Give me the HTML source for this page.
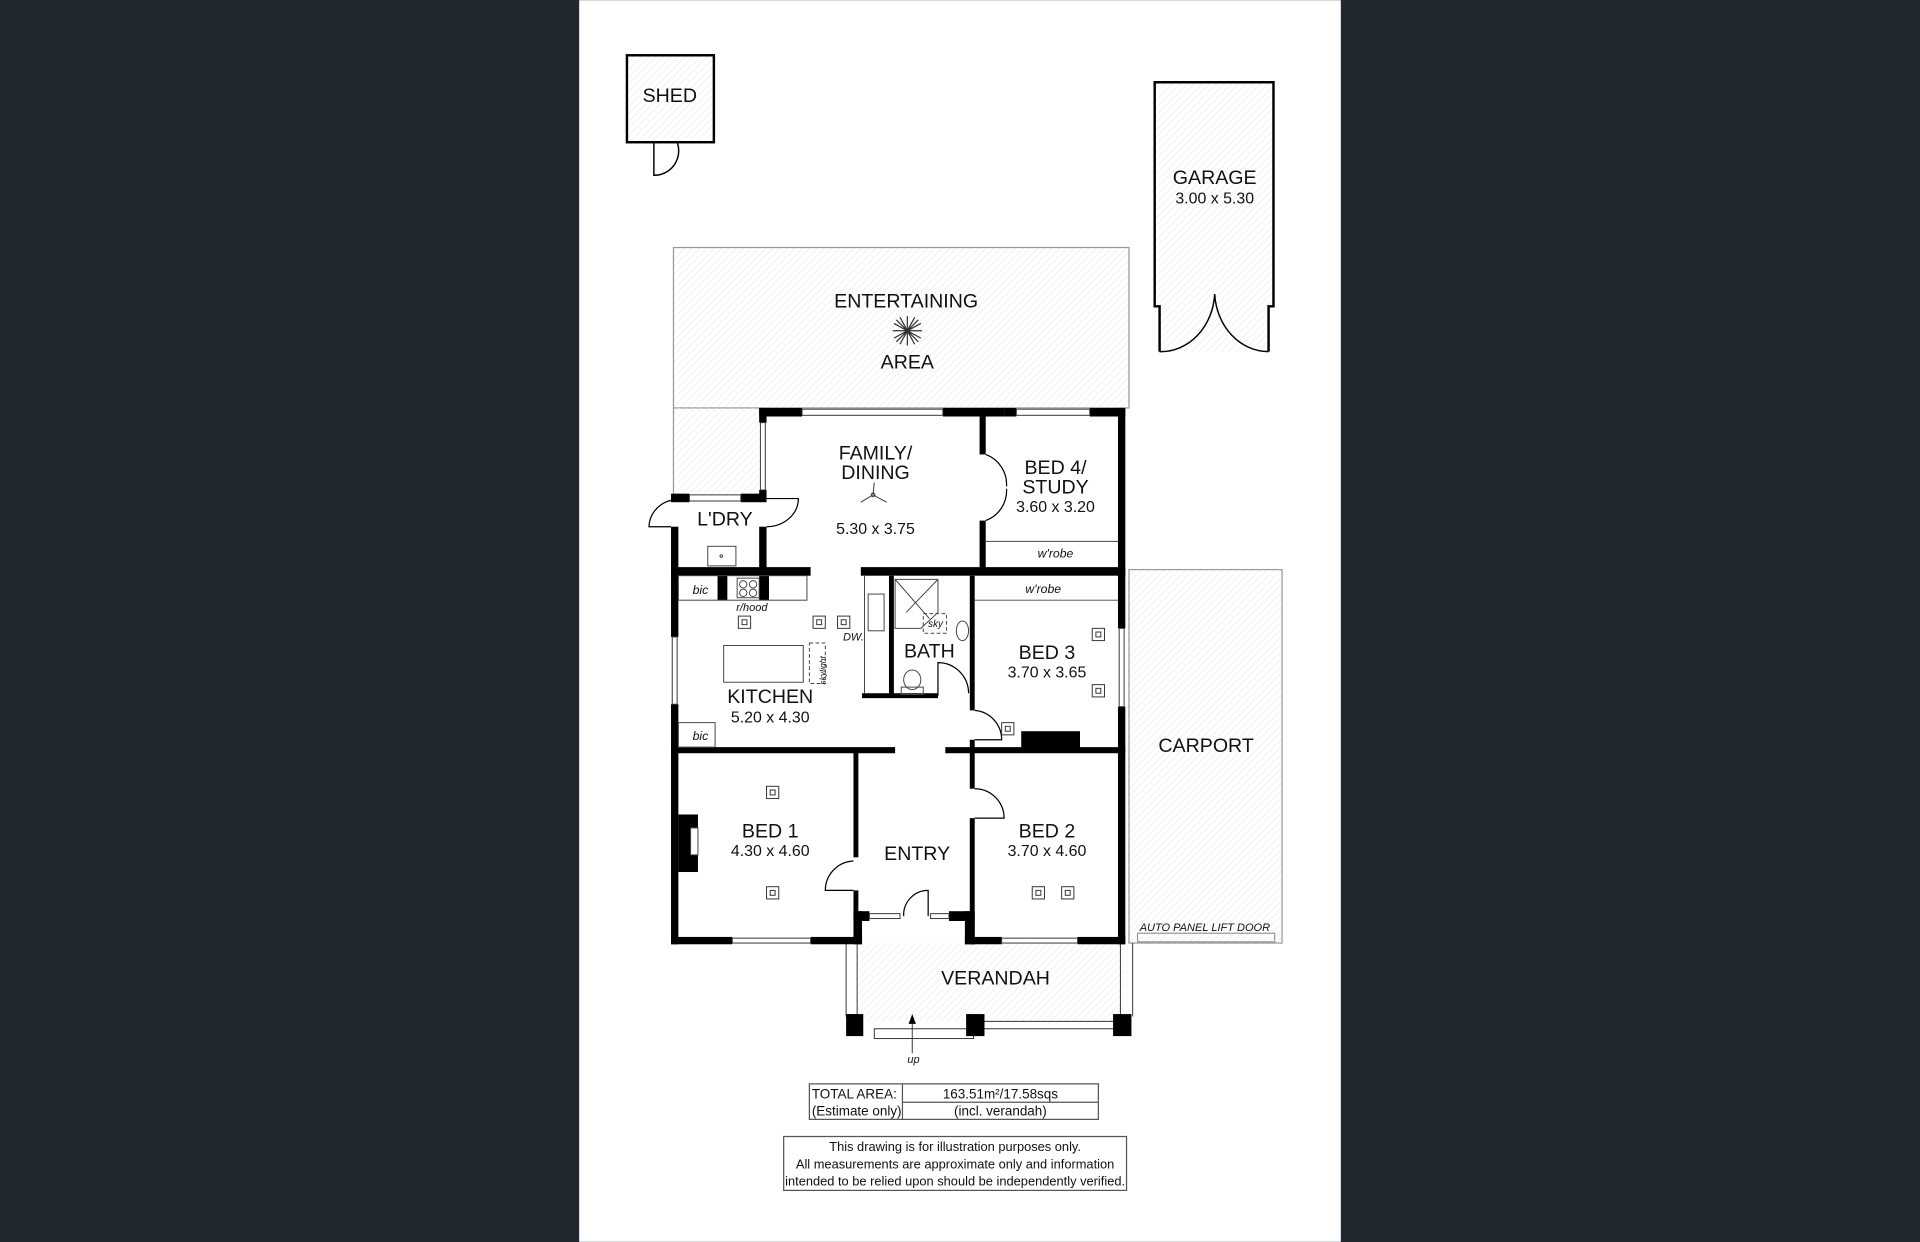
<!DOCTYPE html>
<html><head><meta charset="utf-8"><style>
html,body{margin:0;padding:0;background:#212830;}
svg{display:block}
text{font-family:"Liberation Sans",Arial,sans-serif;fill:#111}
</style></head><body>
<svg width="1920" height="1242" viewBox="0 0 1568 1014" xmlns="http://www.w3.org/2000/svg">
<defs>
<pattern id="h" width="6" height="6" patternUnits="userSpaceOnUse"><path d="M0 6L6 0" stroke="#ebebeb" stroke-width="0.6"/></pattern>
</defs>
<rect x="0" y="0" width="1568" height="1014" fill="#212830"/>
<rect x="473" y="0" width="622" height="1014" fill="#fff"/>

<!-- shed -->
<rect x="512" y="45" width="71" height="71" fill="url(#h)" stroke="#000" stroke-width="2"/>
<path d="M534 116V143A20 20 0 0 0 553 116" fill="none" stroke="#000" stroke-width="1.2"/>
<text x="547" y="83" font-size="16" text-anchor="middle">SHED</text>

<!-- garage -->
<path d="M947 287V250H943V67H1040V250H1036V287" fill="url(#h)" stroke="#000" stroke-width="2"/>
<path d="M947 287A44 50 0 0 0 992 240M1036 287A44 50 0 0 1 992 240" fill="none" stroke="#000" stroke-width="1.2"/>
<text x="992" y="150" font-size="16" text-anchor="middle">GARAGE</text>
<text x="992" y="166" font-size="13" text-anchor="middle">3.00 x 5.30</text>

<!-- entertaining -->
<rect x="550" y="202" width="372" height="131" fill="url(#h)" stroke="#999" stroke-width="1"/>
<rect x="550" y="333" width="70" height="70" fill="url(#h)"/>
<line x1="550" y1="333" x2="550" y2="403" stroke="#999"/>
<text x="740" y="251" font-size="16" text-anchor="middle">ENTERTAINING</text>
<text x="741" y="301" font-size="16" text-anchor="middle">AREA</text>
<g stroke="#333" stroke-width="1" fill="none"><path d="M729 270L753 270M741 258L741 282M732 261L750 279M750 261L732 279M735 259L747 281M747 259L735 281M730 264L752 276M752 264L730 276"/></g>

<!-- carport -->
<rect x="922" y="465" width="125" height="305" fill="url(#h)" stroke="#999"/>
<rect x="929" y="762" width="112" height="7" fill="none" stroke="#999"/>
<text x="985" y="614" font-size="16" text-anchor="middle">CARPORT</text>
<text x="984" y="760" font-size="9" text-anchor="middle" font-style="italic">AUTO PANEL LIFT DOOR</text>

<!-- verandah -->
<rect x="700" y="770" width="218" height="64" fill="url(#h)"/>
<g stroke="#333" stroke-width="0.8" fill="none">
<line x1="691" y1="770" x2="691" y2="830"/><line x1="700" y1="770" x2="700" y2="830"/>
<line x1="915" y1="770" x2="915" y2="830"/><line x1="925" y1="770" x2="925" y2="830"/>
<rect x="714" y="840" width="81" height="8"/>
<line x1="804" y1="834" x2="912" y2="834"/><line x1="804" y1="840" x2="912" y2="840"/>
<line x1="745" y1="860" x2="745" y2="830"/>
</g>
<path d="M745 828l-3 8h6z" fill="#000"/>
<rect x="691" y="828" width="14" height="18" fill="#000"/>
<rect x="789" y="828" width="15" height="18" fill="#000"/>
<rect x="909" y="828" width="15" height="18" fill="#000"/>
<text x="813" y="804" font-size="16" text-anchor="middle">VERANDAH</text>
<text x="746" y="868" font-size="9" text-anchor="middle" font-style="italic">up</text>

<!-- WALLS -->
<g fill="#000">
<rect x="620" y="333" width="35" height="7"/><rect x="770" y="333" width="50" height="7"/><rect x="820" y="333" width="10" height="7"/><rect x="890" y="333" width="29" height="7"/>
<rect x="913" y="333" width="6" height="180"/><rect x="913" y="577" width="6" height="194"/>
<rect x="620" y="333" width="6" height="12"/><rect x="620" y="400" width="6" height="7"/><rect x="620" y="430" width="6" height="36"/>
<rect x="548" y="403" width="15" height="7"/><rect x="605" y="403" width="21" height="7"/>
<rect x="548" y="430" width="6" height="90"/><rect x="548" y="575" width="6" height="196"/>
<rect x="554" y="665" width="16" height="47"/>
<rect x="548" y="463" width="114" height="7"/><rect x="703" y="463" width="216" height="7"/>
<rect x="586" y="470" width="8" height="20"/><rect x="620" y="470" width="8" height="20"/>
<rect x="800" y="339" width="5" height="32"/><rect x="800" y="425" width="5" height="40"/>
<rect x="726" y="470" width="4" height="98"/><rect x="704" y="566" width="62" height="4"/>
<rect x="792" y="470" width="4" height="110"/><rect x="792" y="604" width="4" height="9"/>
<rect x="834" y="597" width="48" height="14"/>
<rect x="548" y="610" width="183" height="5"/><rect x="772" y="610" width="147" height="5"/>
<rect x="697" y="614" width="4" height="86"/><rect x="697" y="727" width="4" height="24"/>
<rect x="697" y="744" width="13" height="8"/><rect x="775" y="744" width="21" height="8"/>
<rect x="792" y="614" width="4" height="30"/><rect x="792" y="668" width="4" height="103"/>
<rect x="548" y="765" width="50" height="6"/><rect x="662" y="765" width="42" height="6"/>
<rect x="788" y="765" width="30" height="6"/><rect x="880" y="765" width="39" height="6"/>
<rect x="697" y="744" width="7" height="27"/><rect x="788" y="744" width="8" height="27"/>
</g>

<!-- windows -->
<g stroke="#333" stroke-width="0.8" fill="#fff">
<rect x="655" y="334" width="115" height="5"/><rect x="830" y="334" width="60" height="5"/>
<rect x="914" y="513" width="4" height="64"/><rect x="621" y="345" width="4" height="55"/>
<rect x="563" y="404" width="42" height="5"/><rect x="549" y="520" width="4" height="55"/>
<rect x="598" y="766" width="64" height="4"/><rect x="818" y="766" width="62" height="4"/>
<rect x="710" y="746" width="25" height="4"/><rect x="760" y="746" width="15" height="4"/>
</g>

<!-- doors -->
<g fill="none" stroke="#000" stroke-width="1">
<path d="M548 430H530A23 23 0 0 1 553 408"/>
<path d="M626 407H652A26 23 0 0 1 626 430"/>
<path d="M805 371A26 26 0 0 1 822 397M805 425A26 26 0 0 0 822 399"/>
<path d="M766 568V541A25 25 0 0 1 791 566"/>
<path d="M796 604H818A24 24 0 0 0 796 580"/>
<path d="M697 727H674A24 24 0 0 1 697 703"/>
<path d="M796 644A24 24 0 0 1 820 668H796"/>
<path d="M758 748V727A20 20 0 0 0 738 748"/>
</g>

<!-- fixtures -->
<g fill="none" stroke="#444" stroke-width="0.8">
<line x1="805" y1="442" x2="913" y2="442"/>
<line x1="796" y1="490" x2="913" y2="490"/>
<rect x="578" y="446" width="23" height="16"/><circle cx="589" cy="454" r="1"/>
<rect x="554" y="470" width="105" height="20"/>
<rect x="602" y="472" width="18" height="16"/>
<circle cx="607" cy="477" r="3"/><circle cx="615" cy="477" r="3"/><circle cx="607" cy="484" r="3"/><circle cx="615" cy="484" r="3"/>
<rect x="591" y="527" width="65" height="30"/>
<rect x="661" y="525" width="13" height="33" stroke-dasharray="3 2"/>
<rect x="554" y="590" width="30" height="20"/>
<line x1="706" y1="470" x2="706" y2="566"/>
<rect x="709" y="485" width="13" height="30"/>
<path d="M731 473H766V500L752 513H731Z"/><path d="M731 473L759 505M766 473L740 500"/>
<rect x="754" y="501" width="19" height="16" stroke-dasharray="3 2"/>
<ellipse cx="786" cy="515" rx="5" ry="8"/>
<ellipse cx="745" cy="555" rx="7" ry="8"/><rect x="736" y="561" width="18" height="6"/>
<rect x="564" y="676" width="6" height="22" fill="#fff"/>
</g>
<g fill="none" stroke="#333" stroke-width="0.8">
<rect x="603" y="503" width="10" height="10"/><rect x="606" y="506" width="4" height="4"/>
<rect x="664" y="503" width="10" height="10"/><rect x="667" y="506" width="4" height="4"/>
<rect x="684" y="503" width="10" height="10"/><rect x="687" y="506" width="4" height="4"/>
<rect x="892" y="513" width="10" height="10"/><rect x="895" y="516" width="4" height="4"/>
<rect x="892" y="559" width="10" height="10"/><rect x="895" y="562" width="4" height="4"/>
<rect x="818" y="590" width="10" height="10"/><rect x="821" y="593" width="4" height="4"/>
<rect x="626" y="642" width="10" height="10"/><rect x="629" y="645" width="4" height="4"/>
<rect x="626" y="724" width="10" height="10"/><rect x="629" y="727" width="4" height="4"/>
<rect x="843" y="724" width="10" height="10"/><rect x="846" y="727" width="4" height="4"/>
<rect x="867" y="724" width="10" height="10"/><rect x="870" y="727" width="4" height="4"/>
<circle cx="713" cy="404" r="1.5"/>
<path d="M713 404L714 394M713 404L703 410M713 404L724 410"/>
</g>

<!-- labels -->
<g text-anchor="middle">
<text x="715" y="375" font-size="16">FAMILY/</text>
<text x="715" y="391" font-size="16">DINING</text>
<text x="715" y="436" font-size="13">5.30 x 3.75</text>
<text x="862" y="387" font-size="16">BED 4/</text>
<text x="862" y="403" font-size="16">STUDY</text>
<text x="862" y="418" font-size="13">3.60 x 3.20</text>
<text x="862" y="455" font-size="10" font-style="italic">w'robe</text>
<text x="852" y="484" font-size="10" font-style="italic">w'robe</text>
<text x="592" y="429" font-size="16">L'DRY</text>
<text x="572" y="485" font-size="10" font-style="italic">bic</text>
<text x="614" y="499" font-size="9" font-style="italic">r/hood</text>
<text x="697" y="523" font-size="9" font-style="italic">DW.</text>
<text x="764" y="512" font-size="8" font-style="italic">sky</text>
<text x="759" y="537" font-size="16">BATH</text>
<text x="855" y="538" font-size="16">BED 3</text>
<text x="855" y="553" font-size="13">3.70 x 3.65</text>
<text x="629" y="574" font-size="16">KITCHEN</text>
<text x="629" y="590" font-size="13">5.20 x 4.30</text>
<text x="572" y="604" font-size="10" font-style="italic">bic</text>
<text x="629" y="684" font-size="16">BED 1</text>
<text x="629" y="699" font-size="13">4.30 x 4.60</text>
<text x="855" y="684" font-size="16">BED 2</text>
<text x="855" y="699" font-size="13">3.70 x 4.60</text>
<text x="749" y="702" font-size="16">ENTRY</text>
</g>
<text x="0" y="0" font-size="7" font-style="italic" transform="translate(674,559) rotate(-90)">skylight</text>

<!-- table -->
<g fill="none" stroke="#555" stroke-width="1">
<rect x="661" y="885" width="236" height="29"/>
<line x1="737" y1="885" x2="737" y2="914"/><line x1="737" y1="900" x2="897" y2="900"/>
<rect x="640" y="928" width="280" height="44"/>
</g>
<text x="663" y="897" font-size="11">TOTAL AREA:</text>
<text x="663" y="911" font-size="11">(Estimate only)</text>
<text x="817" y="897" font-size="11" text-anchor="middle">163.51m²/17.58sqs</text>
<text x="817" y="911" font-size="11" text-anchor="middle">(incl. verandah)</text>
<g text-anchor="middle" font-size="10.5">
<text x="780" y="940">This drawing is for illustration purposes only.</text>
<text x="780" y="954">All measurements are approximate only and information</text>
<text x="780" y="968">intended to be relied upon should be independently verified.</text>
</g>
</svg>
</body></html>
